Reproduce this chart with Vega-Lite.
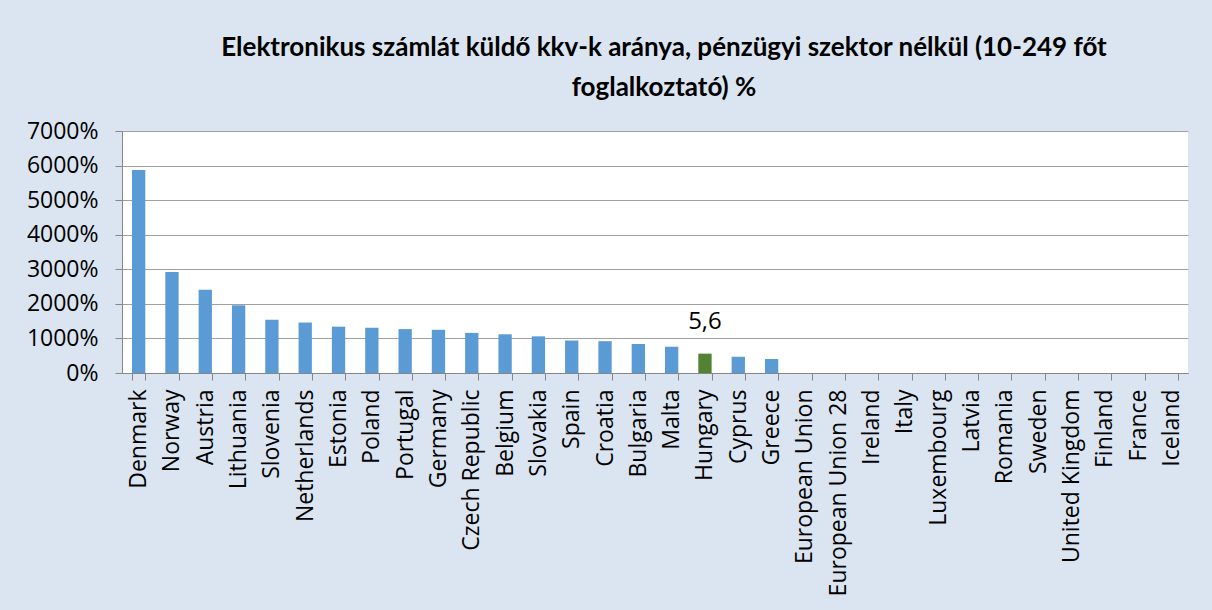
{
  "$schema": "https://vega.github.io/schema/vega-lite/v6.json",
  "width": 1066,
  "height": 242,
  "autosize": {"type": "none"},
  "padding": {"left": 122, "top": 131, "right": 24, "bottom": 237},
  "background": "#dbe5f1",
  "title": {
    "text": ["Elektronikus számlát küldő kkv-k aránya, pénzügyi szektor nélkül (10-249 főt", "foglalkoztató) %"],
    "font": "Lato",
    "fontWeight": "bold",
    "fontSize": 26,
    "lineHeight": 40,
    "color": "#000000",
    "anchor": "middle",
    "frame": "group",
    "offset": 19,
    "dx": 9
  },
  "data": {
    "values": [
      {"country": "Denmark", "value": 58.7, "label": ""},
      {"country": "Norway", "value": 29.2, "label": ""},
      {"country": "Austria", "value": 24.1, "label": ""},
      {"country": "Lithuania", "value": 19.6, "label": ""},
      {"country": "Slovenia", "value": 15.4, "label": ""},
      {"country": "Netherlands", "value": 14.6, "label": ""},
      {"country": "Estonia", "value": 13.4, "label": ""},
      {"country": "Poland", "value": 13.1, "label": ""},
      {"country": "Portugal", "value": 12.7, "label": ""},
      {"country": "Germany", "value": 12.5, "label": ""},
      {"country": "Czech Republic", "value": 11.6, "label": ""},
      {"country": "Belgium", "value": 11.2, "label": ""},
      {"country": "Slovakia", "value": 10.6, "label": ""},
      {"country": "Spain", "value": 9.4, "label": ""},
      {"country": "Croatia", "value": 9.2, "label": ""},
      {"country": "Bulgaria", "value": 8.4, "label": ""},
      {"country": "Malta", "value": 7.6, "label": ""},
      {"country": "Hungary", "value": 5.6, "label": "5,6"},
      {"country": "Cyprus", "value": 4.7, "label": ""},
      {"country": "Greece", "value": 4.05, "label": ""},
      {"country": "European Union", "value": 0, "label": ""},
      {"country": "European Union 28", "value": 0, "label": ""},
      {"country": "Ireland", "value": 0, "label": ""},
      {"country": "Italy", "value": 0, "label": ""},
      {"country": "Luxembourg", "value": 0, "label": ""},
      {"country": "Latvia", "value": 0, "label": ""},
      {"country": "Romania", "value": 0, "label": ""},
      {"country": "Sweden", "value": 0, "label": ""},
      {"country": "United Kingdom", "value": 0, "label": ""},
      {"country": "Finland", "value": 0, "label": ""},
      {"country": "France", "value": 0, "label": ""},
      {"country": "Iceland", "value": 0, "label": ""}
    ]
  },
  "encoding": {
    "x": {
      "field": "country",
      "type": "nominal",
      "sort": null,
      "scale": {"paddingInner": 0.6, "paddingOuter": 0.3},
      "axis": {
        "title": null,
        "labelAngle": -90,
        "labelFont": "Open Sans",
        "labelFontSize": 23,
        "labelColor": "#000000",
        "labelPadding": 9,
        "labelLimit": 400,
        "tickBand": "extent",
        "tickColor": "#868686",
        "tickSize": 7,
        "domainColor": "#868686",
        "grid": false
      }
    },
    "y": {
      "field": "value",
      "type": "quantitative",
      "scale": {"domain": [0, 70], "nice": false},
      "axis": {
        "title": null,
        "values": [0, 10, 20, 30, 40, 50, 60, 70],
        "format": ".0%",
        "labelFont": "Open Sans",
        "labelFontSize": 23,
        "labelColor": "#000000",
        "labelPadding": 17,
        "tickColor": "#868686",
        "tickSize": 7,
        "domainColor": "#868686",
        "grid": true,
        "gridColor": "#a0a0a0"
      }
    }
  },
  "layer": [
    {
      "mark": {"type": "bar"},
      "encoding": {
        "color": {
          "condition": {"test": "datum.country === 'Hungary'", "value": "#548235"},
          "value": "#5b9bd5"
        }
      }
    },
    {
      "mark": {"type": "text", "font": "Open Sans", "fontSize": 24, "color": "#000000", "baseline": "alphabetic", "align": "center", "dy": -25},
      "encoding": {"text": {"field": "label"}}
    }
  ],
  "config": {
    "view": {"fill": "#ffffff", "stroke": null}
  }
}
